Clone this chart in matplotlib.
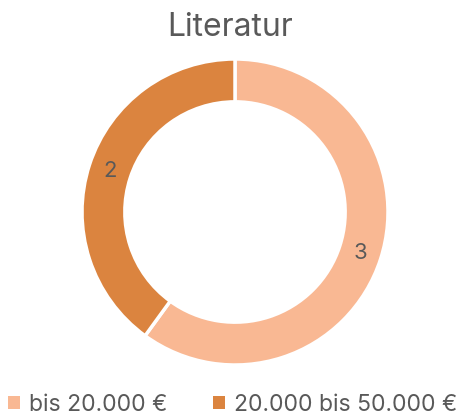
import matplotlib
matplotlib.use("Agg")
import matplotlib.pyplot as plt
import numpy as np
from matplotlib.patches import Patch

# Chart data
title = "Literatur"
categories = ["bis 20.000 €", "20.000 bis 50.000 €"]
values = [3, 2]
colors = ["#F9B893", "#DB843F"]
text_color = "#595959"

plt.rcParams["font.family"] = ["Inter", "DejaVu Sans"]

fig = plt.figure(figsize=(4.61, 4.15), dpi=100)

# axes placed so the ring lands where it is in the reference
ax = fig.add_axes([82 / 461, 50 / 415, 306 / 461, 306 / 415])
wedges, _ = ax.pie(
    values,
    colors=colors,
    startangle=90,
    counterclock=False,
    radius=1.0,
    wedgeprops=dict(width=0.28, edgecolor="white", linewidth=2.5),
)
for w, v in zip(wedges, values):
    ang = np.deg2rad((w.theta1 + w.theta2) / 2)
    r = 0.86
    ax.text(r * np.cos(ang), r * np.sin(ang), str(v), ha="center", va="center",
            fontsize=16, color=text_color)
ax.set_xlim(-1, 1)
ax.set_ylim(-1, 1)
ax.set_aspect("auto")

fig.text(0.5, 1 - 28 / 415, title, ha="center", va="center",
         fontsize=23, color=text_color)

handles = [Patch(facecolor=c, edgecolor="none") for c in colors]
fig.legend(handles, categories, loc="center", bbox_to_anchor=(0.505, 1 - 405 / 415),
           ncol=2, frameon=False, fontsize=16.5, labelcolor=text_color,
           handlelength=0.5, handleheight=0.5, handletextpad=0.4, columnspacing=2.0)

fig.savefig("out.png", dpi=100)
